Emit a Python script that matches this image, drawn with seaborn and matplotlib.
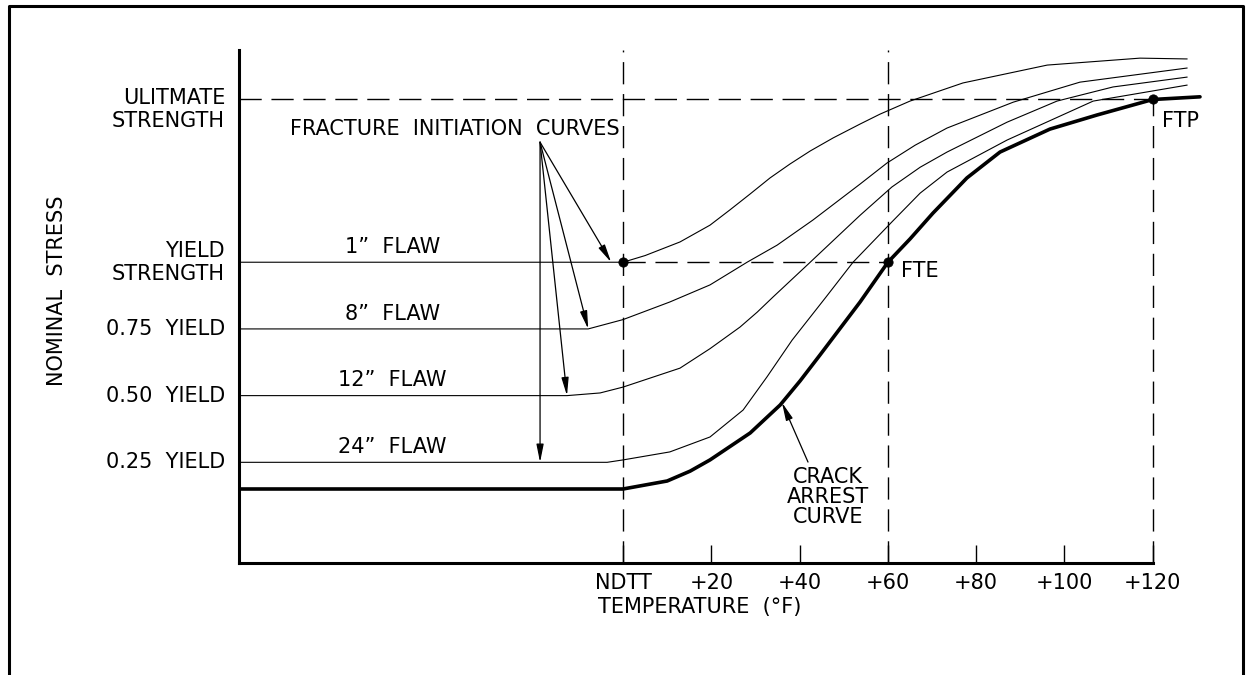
# plot.py
"""
Curvas de iniciação de fratura e curva de parada de trinca (diagrama de
análise de fratura). Salva a figura em out.png.
"""

import matplotlib
matplotlib.use("Agg")
import matplotlib.pyplot as plt
import matplotlib.transforms as mtransforms
import seaborn as sns
import pandas as pd

# Temperatura em °F acima do NDTT, tensão nominal em frações da tensão de escoamento
curve_1_temp = [-87, 0, 5, 12.9, 19.7, 24.2, 28.8, 33.3, 37.8, 42.4, 47.6, 53.7, 58.2, 65.0, 77.0, 96.1, 117.1, 127.8]
curve_1_stress = [1.0, 1.0, 1.025, 1.076, 1.139, 1.196, 1.256, 1.316, 1.368, 1.417, 1.466, 1.518, 1.555, 1.604, 1.672, 1.739, 1.765, 1.762]

curve_8_temp = [-87, -7.9, 0, 10.6, 19.7, 28.1, 34.9, 43.0, 53.7, 59.8, 66.2, 73.4, 88.4, 103.5, 127.8]
curve_8_stress = [0.75, 0.75, 0.785, 0.851, 0.915, 1.0, 1.064, 1.158, 1.293, 1.372, 1.439, 1.503, 1.60, 1.675, 1.728]

curve_12_temp = [-87, -12.7, -5.2, 0, 12.9, 19.7, 26.5, 30.4, 34.0, 42.4, 53.7, 60.9, 67.3, 73.4, 87.0, 98.3, 111.0, 127.8]
curve_12_stress = [0.5, 0.5, 0.51, 0.532, 0.603, 0.676, 0.757, 0.813, 0.87, 1.0, 1.176, 1.282, 1.356, 1.413, 1.525, 1.604, 1.657, 1.694]

curve_24_temp = [-87, -3.6, 0, 10.6, 19.7, 27.2, 32.6, 38.3, 46.0, 52.1, 60.9, 67.3, 73.4, 87.0, 106.5, 127.8]
curve_24_stress = [0.25, 0.25, 0.259, 0.289, 0.345, 0.446, 0.570, 0.708, 0.870, 1.0, 1.151, 1.259, 1.338, 1.458, 1.604, 1.664]

arrest_temp = [-87, 0, 5, 10.0, 15.2, 19.7, 28.8, 35.6, 40.1, 44.6, 53.7, 60, 65.0, 70.2, 77.9, 85.4, 96.7, 107.4, 120, 130.7]
arrest_stress = [0.15, 0.15, 0.165, 0.18, 0.217, 0.259, 0.36, 0.465, 0.555, 0.652, 0.851, 1.0, 1.087, 1.184, 1.316, 1.413, 1.499, 1.552, 1.61, 1.62]

flaw_names = ["1”  FLAW", "8”  FLAW", "12”  FLAW", "24”  FLAW"]
flaw_levels = [1.0, 0.75, 0.5, 0.25]

# Pontos NDTT, FTE e FTP
key_temp = [0, 60, 120]
key_stress = [1.0, 1.0, 1.61]
key_names = ["", "FTE", "FTP"]

x_ticks = [0, 20, 40, 60, 80, 100, 120]
x_tick_labels = ["NDTT", "+20", "+40", "+60", "+80", "+100", "+120"]
y_ticks = [0.25, 0.5, 0.75, 1.0, 1.61]
y_tick_labels = ["0.25  YIELD", "0.50  YIELD", "0.75  YIELD", "YIELD\nSTRENGTH", "ULITMATE\nSTRENGTH"]

sns.set_style("white", rc={"text.color": "black", "xtick.color": "black", "ytick.color": "black",
                           "axes.labelcolor": "black", "axes.edgecolor": "black"})
plt.rcParams["font.family"] = ["DejaVu Sans"]

FS = 15
DASH = (0, (16, 7))
x_min, x_max = -87, 134.1
y_min, y_max = -0.1274, 1.833
y_top = 1.795

fig = plt.figure(figsize=(12.49, 6.75), dpi=100)
ax = fig.add_axes([239 / 1249, 112 / 675, 976 / 1249, 523 / 675])

# Curvas de iniciação (finas)
thin = pd.concat([
    pd.DataFrame({"temp": t, "stress": s, "curve": name})
    for name, t, s in zip(flaw_names,
                          [curve_1_temp, curve_8_temp, curve_12_temp, curve_24_temp],
                          [curve_1_stress, curve_8_stress, curve_12_stress, curve_24_stress])
])
sns.lineplot(data=thin, x="temp", y="stress", units="curve", estimator=None, sort=False,
             color="black", linewidth=0.8, ax=ax, legend=False)

# Curva de parada de trinca (grossa)
sns.lineplot(x=arrest_temp, y=arrest_stress, estimator=None, sort=False,
             color="black", linewidth=2.6, ax=ax)

# Linhas tracejadas de referência
ax.vlines([key_temp[0], key_temp[1]], y_min, y_top, colors="black", linewidth=1, linestyles=DASH)
ax.vlines(key_temp[2], y_min, key_stress[2], colors="black", linewidth=1, linestyles=DASH)
ax.hlines(key_stress[2], x_min, key_temp[2], colors="black", linewidth=1, linestyles=DASH)
ax.hlines(key_stress[0], key_temp[0], key_temp[1], colors="black", linewidth=1, linestyles=DASH)

sns.scatterplot(x=key_temp, y=key_stress, color="black", s=45, edgecolor=None, ax=ax, zorder=5, legend=False)
ax.text(key_temp[1] + 3.0, 0.967, key_names[1], fontsize=FS, ha="left", va="center")
ax.text(key_temp[2] + 2.2, 1.529, key_names[2], fontsize=FS, ha="left", va="center")

# Rótulos das trincas
for name, level in zip(flaw_names, flaw_levels):
    ax.text(-52.3, level + 0.02, name, fontsize=FS, ha="center", va="bottom")

ax.text(-38.1, 1.50, "FRACTURE  INITIATION  CURVES", fontsize=FS, ha="center", va="center")
arrow = dict(arrowstyle="-|>,head_length=0.9,head_width=0.18", color="black", lw=0.9,
             shrinkA=0, shrinkB=0, mutation_scale=12)
targets = [(-2.7, 1.0), (-7.9, 0.75), (-12.7, 0.5), (-18.8, 0.25)]
for tx, ty in targets:
    ax.annotate("", xy=(tx, ty), xytext=(-18.8, 1.45), arrowprops=arrow)

ax.text(46.4, 0.12, "CRACK\nARREST\nCURVE", fontsize=FS, ha="center", va="center", linespacing=1.0)
ax.annotate("", xy=(36.0, 0.474), xytext=(41.9, 0.251), arrowprops=arrow)

# Eixos
ax.set_xlim(x_min, x_max)
ax.set_ylim(y_min, y_max)
sns.despine(ax=ax)
ax.spines["left"].set_bounds(y_min, y_top)
ax.spines["bottom"].set_bounds(x_min, 120)
for side in ["left", "bottom"]:
    ax.spines[side].set_linewidth(2.2)

ax.set_xticks(x_ticks, x_tick_labels)
ax.tick_params(axis="x", bottom=True, direction="in", length=13, width=1, pad=7, labelsize=FS)
ax.set_yticks(y_ticks, y_tick_labels)
ax.tick_params(axis="y", left=False, length=0, pad=10, labelsize=FS)
for lbl in ax.get_yticklabels():
    lbl.set_va("center")
ult = ax.get_yticklabels()[-1]
ult.set_transform(ult.get_transform() + mtransforms.ScaledTranslation(0, -0.1, fig.dpi_scale_trans))

ax.set_xlabel("TEMPERATURE  (°F)", fontsize=FS)
ax.xaxis.set_label_coords(0.472, -0.065)
ax.set_ylabel("NOMINAL  STRESS", fontsize=FS)
ax.yaxis.set_label_coords(-0.1865, 0.52)
ax.yaxis.label.set_va("center")

# Moldura da figura
frame_x = [9 / 1249, 9 / 1249, 1243 / 1249, 1243 / 1249]
frame_y = [0, 1 - 6 / 675, 1 - 6 / 675, 0]
fig.add_artist(plt.Line2D(frame_x, frame_y, transform=fig.transFigure, color="black", linewidth=2.2))

fig.savefig("out.png", dpi=100)
plt.close(fig)
